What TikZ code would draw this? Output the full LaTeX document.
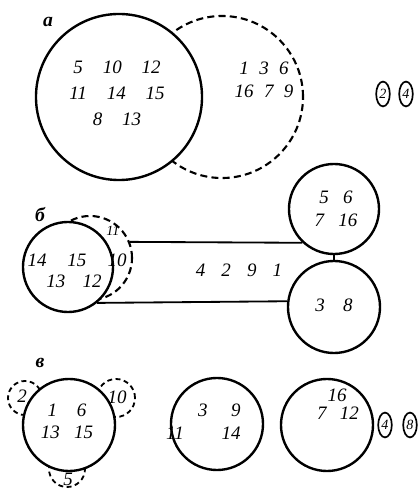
\documentclass[tikz,border=0pt]{standalone}
\usepackage{fontspec}
\setmainfont{Liberation Serif}
\usepackage{tikz}
\usetikzlibrary{shapes.geometric, positioning, calc}

\begin{document}
\begin{tikzpicture}[x=0.025cm, y=0.025cm,
    setring/.style={circle, draw, line width=1.7pt, fill=white, inner sep=0pt},
    ghostring/.style={circle, draw, line width=1.5pt, dash pattern=on 5pt off 3pt, inner sep=0pt},
    loopring/.style={circle, draw, line width=1.3pt, dash pattern=on 3.5pt off 2.5pt, inner sep=0pt},
    lone/.style={ellipse, draw, line width=1.2pt, inner sep=0pt, minimum width=0.34cm, minimum height=0.62cm,
                 font=\fontsize{10}{12}\selectfont\itshape},
    nums/.style={inner sep=0pt, align=center, font=\fontsize{13.5}{18.5}\selectfont\itshape},
    tag/.style={inner sep=0pt, font=\fontsize{14}{16}\selectfont\itshape\bfseries},
    link/.style={line width=1.3pt}]
    \useasboundingbox (0,0) rectangle (419,488);

    % Part a
    \node[ghostring, minimum size=4.05cm] (A2) at (222,391) {};
    \node[setring, minimum size=4.15cm] (A1) at (119,391) {};
    \node[tag] (la) at (48,466) {а};
    \node[nums] (ta1) at (117,394.7) {5\hspace{1.05em}10\hspace{1.05em}12\\11\hspace{1.05em}14\hspace{1.05em}15\\8\hspace{1.05em}13};
    \node[nums, font=\fontsize{13.5}{16.5}\selectfont\itshape] (ta2) at (264,408) {1\hspace{0.55em}3\hspace{0.55em}6\\16\hspace{0.55em}7\hspace{0.55em}9};
    \node[lone] (a2) at (383,394) {2};
    \node[lone] (a4) at (406,394) {4};

    % Part b
    \node[tag] (lb) at (40,273) {б};
    \node[ghostring, minimum size=2.1cm] (B2) at (90,230) {};
    \node[setring, minimum size=2.25cm] (B1) at (68,221) {};
    \node[setring, minimum size=2.25cm] (C1) at (334,279) {};
    \node[setring, minimum size=2.3cm] (C2) at (334,181) {};
    \draw[link] (B2.22) -- (C1.227);
    \draw[link] (B1.-51) -- (C2.173.8);
    \draw[link] (C1.south) -- (C2.north);
    \node[nums, font=\fontsize{10}{12}\selectfont\itshape] (tb11) at (113,257) {11};
    \node[nums] (tb1) at (57,228) {14\hspace{1.1em}15};
    \node[nums] (tb10) at (117,228) {10};
    \node[nums] (tb2) at (74,207) {13\hspace{0.9em}12};
    \node[nums] (tmid) at (239,218) {4\hspace{0.85em}2\hspace{0.85em}9\hspace{0.85em}1};
    \node[nums, font=\fontsize{13.5}{16.5}\selectfont\itshape] (tc1) at (336,279.5) {5\hspace{0.75em}6\\7\hspace{0.75em}16};
    \node[nums] (tc2) at (334,183) {3\hspace{0.95em}8};

    % Part c
    \node[tag] (lc) at (40,125) {в};
    \node[loopring, minimum size=0.85cm] (L2) at (25,90) {};
    \node[loopring, minimum size=0.95cm] (L10) at (116,90) {};
    \node[loopring, minimum size=0.9cm] (L5) at (67,19) {};
    \node[setring, minimum size=2.3cm] (D1) at (69,63) {};
    \node[nums, font=\fontsize{13.5}{15.5}\selectfont\itshape] (td1) at (67,67) {1\hspace{1.05em}6\\13\hspace{0.75em}15};
    \node[nums] (t2) at (22,92) {2};
    \node[nums] (t10) at (117,91) {10};
    \node[nums] (t5) at (68,9) {5};
    \node[setring, minimum size=2.3cm] (D2) at (217,64) {};
    \node[nums, align=right, anchor=east, font=\fontsize{13.5}{16.5}\selectfont\itshape] (td2) at (241,66.5) {3\hspace{1.25em}9\\11\hspace{2em}14};
    \node[setring, minimum size=2.3cm] (D3) at (327,63) {};
    \node[nums] (td3a) at (337,93) {16};
    \node[nums] (td3b) at (338,75) {7\hspace{0.7em}12};
    \node[lone] (c4) at (385,63) {4};
    \node[lone] (c8) at (410,63) {8};
\end{tikzpicture}
\end{document}
